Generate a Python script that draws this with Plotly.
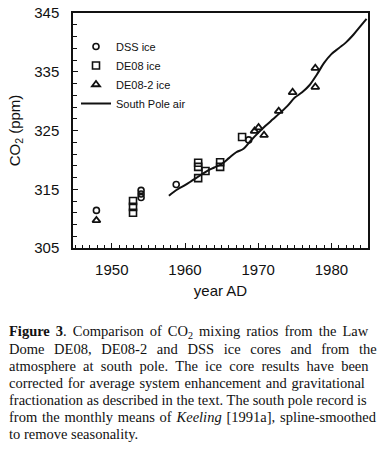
import plotly.graph_objects as go

# ---- data ----
dss_year = [1947.9, 1954.0, 1954.0, 1954.0, 1958.8, 1968.7]
dss_co2 = [311.4, 314.8, 314.2, 313.6, 315.8, 323.4]

de08_year = [1952.9, 1952.9, 1952.9, 1961.8, 1961.8, 1961.8, 1962.8, 1964.8, 1964.8, 1967.8]
de08_co2 = [313.0, 312.0, 311.0, 319.5, 318.8, 316.9, 318.1, 319.6, 318.8, 323.9]

de082_year = [1947.9, 1969.5, 1970.05, 1970.8, 1972.8, 1974.7, 1977.8, 1977.8]
de082_co2 = [309.7, 324.9, 325.5, 324.2, 328.3, 331.5, 335.6, 332.4]

sp_year = [1957.8, 1959, 1960, 1961, 1962, 1963, 1964, 1965, 1966, 1967, 1968,
           1969, 1970, 1971, 1972, 1973, 1974, 1975, 1976, 1977, 1978, 1979,
           1980, 1981, 1982, 1983, 1984, 1984.8]
sp_co2 = [313.9, 315.0, 315.7, 316.5, 317.3, 318.1, 318.7, 319.3, 320.3, 321.3, 321.9,
          323.3, 324.6, 325.8, 326.9, 328.0, 329.2, 330.6, 331.5, 332.7, 334.5, 336.5,
          338.0, 339.0, 340.0, 341.3, 342.8, 344.0]

caption_lines = [
    "<b>Figure 3</b>. Comparison of CO<sub>2</sub> mixing ratios from the Law",
    "Dome DE08, DE08-2 and DSS ice cores and from the",
    "atmosphere at south pole. The ice core results have been",
    "corrected for average system enhancement and gravitational",
    "fractionation as described in the text. The south pole record is",
    "from the monthly means of <i>Keeling</i> [1991a], spline-smoothed",
    "to remove seasonality.",
]
# extra inter-word padding (unicode spaces) to imitate the justified caption
caption_pad = ["\u2006", "\u2004\u200a", "\u2005", "\u200a", "", "\u200a", ""]

# ---- layout constants (pixels) ----
W, H = 388, 450
L, R, T, B = 73, 368, 13, 248
INK = "#111111"
SANS = "Liberation Sans, Arial, sans-serif"
SERIF = "Liberation Serif, Times New Roman, serif"

fig = go.Figure()
fig.add_trace(go.Scatter(x=dss_year, y=dss_co2, mode="markers", name="DSS ice",
                         marker=dict(symbol="circle-open", size=6, color=INK,
                                     line=dict(width=1.6, color=INK))))
fig.add_trace(go.Scatter(x=de08_year, y=de08_co2, mode="markers", name="DE08 ice",
                         marker=dict(symbol="square-open", size=7, color=INK,
                                     line=dict(width=1.6, color=INK))))
fig.add_trace(go.Scatter(x=de082_year, y=de082_co2, mode="markers", name="DE08-2 ice",
                         marker=dict(symbol="triangle-up-open", size=7, color=INK,
                                     line=dict(width=1.8, color=INK))))
fig.add_trace(go.Scatter(x=sp_year, y=sp_co2, mode="lines", name="South Pole air",
                         line=dict(color=INK, width=2, shape="spline")))

def py(p):
    return (B - p) / (B - T)

cap_y = [331.7, 349.0, 366.0, 383.0, 400.0, 417.0, 434.0]
for line, pad, y in zip(caption_lines, caption_pad, cap_y):
    fig.add_annotation(text=line.replace(" ", " " + pad), xref="paper", yref="paper",
                       x=(8 - L) / (R - L), y=py(y), xanchor="left", yanchor="middle",
                       showarrow=False, borderpad=0,
                       font=dict(family=SERIF, size=14.5, color=INK))

axis_common = dict(showline=True, linecolor=INK, linewidth=1.5, mirror=True,
                   ticks="inside", tickcolor=INK, tickwidth=1.2, showgrid=False,
                   zeroline=False, automargin=False,
                   tickfont=dict(family=SANS, size=15, color=INK))

fig.update_xaxes(range=[1944.7, 1985], tickvals=[1950, 1960, 1970, 1980], ticklen=5,
                 minor=dict(dtick=1, tick0=1945, ticks="inside", ticklen=3,
                            tickcolor=INK, tickwidth=1),
                 title=dict(text="year AD", standoff=9,
                            font=dict(family=SANS, size=15, color=INK)),
                 ticklabelstandoff=7, **axis_common)
fig.update_yaxes(range=[305, 345], dtick=10, tick0=305, ticklen=5,
                 minor=dict(dtick=2, tick0=305, ticks="inside", ticklen=4,
                            tickcolor=INK, tickwidth=1),
                 title=dict(text="CO<sub>2</sub> (ppm)", standoff=10,
                            font=dict(family=SANS, size=15, color=INK)),
                 ticklabelstandoff=9, **axis_common)

fig.update_layout(
    width=W, height=H,
    margin=dict(l=L, r=W - R, t=T, b=H - B, pad=0),
    paper_bgcolor="white", plot_bgcolor="white",
    showlegend=True,
    legend=dict(x=(76 - L) / (R - L), y=py(32), xanchor="left", yanchor="top",
                bgcolor="rgba(0,0,0,0)", itemwidth=30, tracegroupgap=0,
                font=dict(family=SANS, size=11, color=INK)),
)

fig.write_html("out.html", config={"displayModeBar": False},
               post_script="document.body.style.margin='0';document.body.style.padding='0';")
